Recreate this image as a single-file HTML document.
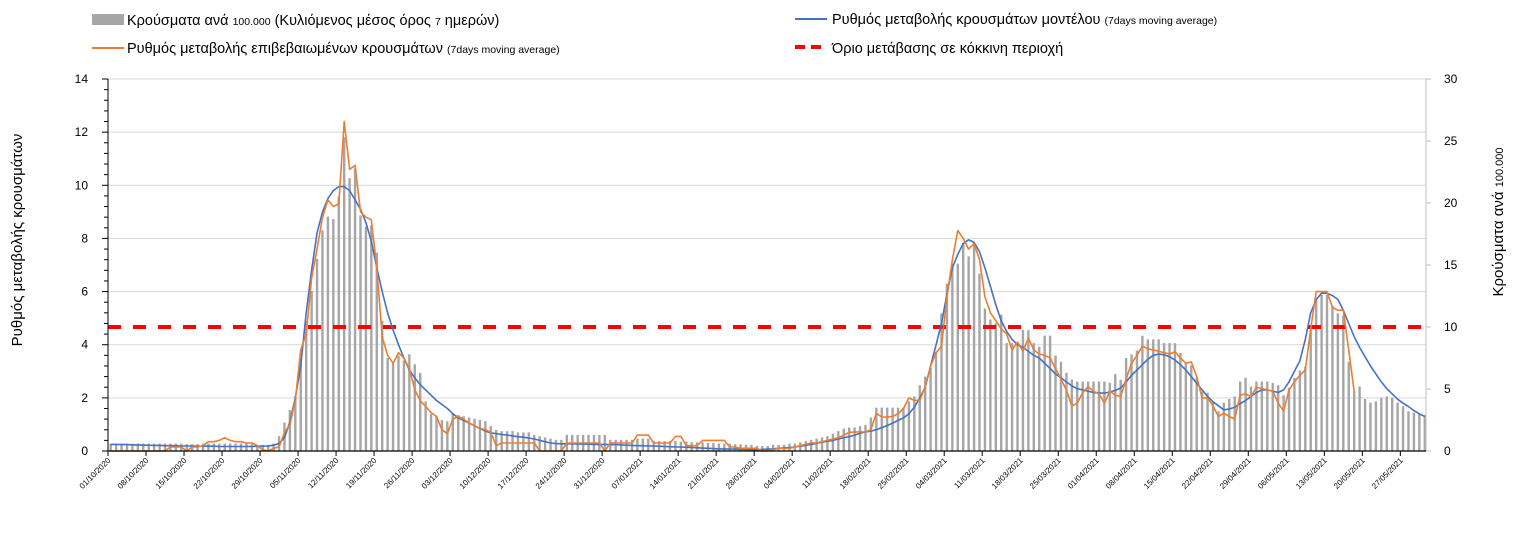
<!DOCTYPE html>
<html><head><meta charset="utf-8"><style>
html,body{margin:0;padding:0;background:#fff;}
svg{display:block;font-family:"Liberation Sans",sans-serif;}
</style></head><body>
<svg id="chart" width="1518" height="538" viewBox="0 0 1518 538" xmlns="http://www.w3.org/2000/svg">
<g id="legend">
 <g>
  <rect x="92" y="14" width="32" height="11" fill="#a6a6a6"/>
  <text x="127" y="25" font-size="14.5" fill="#000">Κρούσματα ανά <tspan font-size="10.5">100.000</tspan> (Κυλιόμενος μέσος όρος <tspan font-size="10.5">7</tspan> ημερών)</text>
 </g>
 <g>
  <line x1="795" y1="19" x2="827" y2="19" stroke="#4472c4" stroke-width="2"/>
  <text x="832" y="24" font-size="14.5" fill="#000">Ρυθμός μεταβολής κρουσμάτων μοντέλου <tspan font-size="10.5">(7days moving average)</tspan></text>
 </g>
 <g>
  <line x1="92" y1="48" x2="124" y2="48" stroke="#ed7d31" stroke-width="2"/>
  <text x="127" y="53" font-size="14.5" fill="#000">Ρυθμός μεταβολής επιβεβαιωμένων κρουσμάτων <tspan font-size="10.5">(7days moving average)</tspan></text>
 </g>
 <g>
  <line x1="795" y1="47" x2="827" y2="47" stroke="#ff0000" stroke-width="4" stroke-dasharray="10,6"/>
  <text x="832" y="53" font-size="14.5" fill="#000">Όριο μετάβασης σε κόκκινη περιοχή</text>
 </g>
</g>
<text transform="translate(22,240) rotate(-90)" text-anchor="middle" font-size="15" fill="#000">Ρυθμός μεταβολής κρουσμάτων</text>
<text transform="translate(1503,222) rotate(-90)" text-anchor="middle" font-size="15" fill="#000">Κρούσματα ανά <tspan font-size="11">100.000</tspan></text>
<g id="grid"></g>
<g id="bars"></g>
<g id="lines"></g>
<g id="axes"></g>
</svg>
<script>
// ===== data =====
const startDate = [2020, 9, 1]; // 01/10/2020
const leftTicks = [0, 2, 4, 6, 8, 10, 12, 14];
const rightTicks = [0, 5, 10, 15, 20, 25, 30];
const redThreshold = [10]; // in cases per 100k (right axis)
const casesPer100k = [
.6,.6,.6,.6,.6,.6,.6,
.6,.6,.6,.6,.6,.6,.6,
.55,.55,.55,.6,.6,.6,.6,
.6,.6,.6,.6,.6,.55,.5,
.5,.5,.6,1.2,2.3,3.3,4.4,
7.5,10.5,12.9,15.5,17.8,18.9,18.7,
20.5,25.3,22,22.8,19,18.1,18.2,
16,10.5,7.5,7.1,7.7,7.3,7.8,
7.0,6.3,4.0,3.0,2.8,2.5,2.4,
3.0,2.9,2.8,2.7,2.6,2.5,2.4,
2.0,1.7,1.6,1.6,1.6,1.5,1.5,
1.5,1.3,1.2,1.1,1.0,.9,.9,
1.3,1.3,1.3,1.3,1.3,1.3,1.3,
1.3,.9,.9,.9,.9,.9,1.0,
1.0,1.0,.8,.8,.8,.8,.8,
.75,.75,.7,.7,.7,.65,.65,
.6,.6,.6,.55,.55,.5,.5,
.4,.4,.4,.5,.5,.5,.6,
.6,.7,.8,.9,1.0,1.1,1.2,
1.4,1.6,1.8,1.9,1.9,2.0,2.1,
2.7,3.5,3.5,3.5,3.5,3.5,3.5,
4.0,4.4,5.3,6.0,6.7,8.0,11.1,
13.5,15.1,15.1,16.8,15.7,16.8,14.3,
11.5,10.6,10.3,11.0,8.7,8.7,8.7,
9.75,9.75,8.7,8.4,9.3,9.3,7.7,
7.2,6.3,5.75,5.6,5.6,5.6,5.6,
5.6,5.6,5.5,6.2,5.75,7.5,7.8,
8.1,9.3,9.0,9.0,9.0,8.7,8.7,
8.7,7.9,7.1,6.9,5.9,4.8,4.7,
4.0,3.2,3.9,4.2,4.4,5.6,5.9,
5.2,5.6,5.6,5.6,5.5,5.3,4.5,
5.1,5.9,6.5,6.8,9.8,12.2,12.6,
12.6,11.7,11.1,10.9,7.2,4.8,5.2,
4.2,3.9,4.0,4.3,4.4,4.3,3.9,
3.6,3.2,3.1,3.0,2.9];
const confirmedRate = [
0,0,0,0,0,0,0,
0,0,0,0,.15,.15,.15,
0,.15,.15,.2,.35,.35,.4,
.5,.4,.35,.35,.3,.3,.2,
.05,0,.1,.15,.7,1.0,1.9,
3.8,4.4,6.5,7.6,8.8,9.45,9.2,
9.3,12.4,10.6,10.75,9.0,8.8,8.7,
6.9,4.3,3.6,3.3,3.7,3.5,3.1,
2.3,1.9,1.67,1.45,1.3,.8,.65,
1.2,1.3,1.2,1.05,.95,.85,.8,
.7,.2,.3,.3,.3,.3,.3,
.3,.3,0,0,0,0,0,
.3,.3,.3,.3,.3,.3,.3,
0,.3,.3,.3,.3,.3,.6,
.6,.6,.3,.3,.3,.3,.55,
.55,.2,.2,.2,.4,.4,.4,
.4,.4,.15,.15,.1,.1,.1,
.1,0,0,.05,.1,.1,.1,
.15,.2,.25,.3,.3,.35,.4,
.45,.5,.6,.7,.72,.72,.72,
.8,1.42,1.28,1.28,1.3,1.4,1.6,
2.0,1.9,1.92,2.4,3.2,3.7,3.95,
5.8,7.2,8.3,8.0,7.6,7.8,7.2,
5.8,5.2,4.9,4.6,4.4,3.8,4.1,
3.75,4.25,3.8,3.65,3.6,3.5,3.1,
2.7,2.3,1.7,1.8,2.2,2.42,2.25,
2.15,1.8,2.25,2.1,2.05,2.7,3.3,
3.6,3.95,3.85,3.8,3.75,3.7,3.65,
3.74,3.5,3.3,3.35,2.8,2.0,2.0,
1.7,1.3,1.42,1.3,1.2,2.1,2.15,
2.04,2.4,2.35,2.3,2.25,1.8,1.5,
2.3,2.6,2.85,3.05,4.6,6.0,6.0,
6.0,5.4,5.3,5.3,3.8,2.23];
const modelRate = [
.25,.25,.24,.24,.23,.23,.22,
.22,.21,.21,.2,.2,.2,.19,
.19,.19,.18,.18,.18,.18,.17,
.17,.17,.17,.17,.17,.17,.18,
.18,.19,.22,.28,.5,1.1,2.0,
3.2,5.2,6.8,8.2,9.0,9.5,9.8,
9.95,9.95,9.8,9.45,9.1,8.6,7.9,
6.9,6.0,5.2,4.55,4.0,3.5,3.05,
2.75,2.5,2.3,2.1,1.9,1.75,1.6,
1.4,1.25,1.15,1.05,.95,.85,.75,
.68,.65,.62,.6,.57,.54,.52,
.49,.45,.4,.35,.3,.28,.27,
.27,.27,.26,.26,.26,.25,.25,
.25,.24,.24,.23,.22,.21,.2,
.2,.19,.19,.18,.17,.16,.15,
.15,.14,.13,.12,.11,.1,.09,
.08,.08,.07,.07,.06,.06,.05,
.05,.06,.07,.08,.1,.12,.13,
.15,.18,.21,.25,.29,.33,.37,
.4,.45,.5,.54,.6,.67,.72,
.75,.8,.88,.96,1.05,1.15,1.25,
1.4,1.65,2.0,2.4,3.2,4.0,4.8,
5.9,6.9,7.4,7.8,7.95,7.85,7.5,
6.9,6.2,5.5,4.9,4.5,4.2,4.0,
3.9,3.75,3.6,3.5,3.3,3.1,2.9,
2.75,2.6,2.45,2.35,2.3,2.25,2.2,
2.18,2.18,2.22,2.28,2.37,2.6,2.85,
3.05,3.25,3.45,3.6,3.65,3.62,3.55,
3.42,3.25,3.05,2.8,2.55,2.3,2.05,
1.85,1.7,1.55,1.58,1.65,1.78,1.9,
2.05,2.2,2.3,2.3,2.25,2.2,2.3,
2.6,3.0,3.4,4.2,5.2,5.7,5.94,
5.94,5.85,5.7,5.3,4.8,4.3,3.9,
3.55,3.2,2.9,2.6,2.35,2.15,1.95,
1.8,1.67,1.52,1.4,1.3];

// ===== layout =====
const NS = "http://www.w3.org/2000/svg";
const X0 = 108, X1 = 1426, Y0 = 451, Y1 = 79;
const nDays = 243;
const dayW = 5.43;
const xDay = d => X0 + d * dayW;
const yL = v => Y0 - (v / 14) * (Y0 - Y1);
const yR = v => Y0 - (v / 30) * (Y0 - Y1);
function mk(tag, attrs, parent) {
  const e = document.createElementNS(NS, tag);
  for (const k in attrs) e.setAttribute(k, attrs[k]);
  parent.appendChild(e);
  return e;
}
const grid = document.getElementById('grid');
const bars = document.getElementById('bars');
const lines = document.getElementById('lines');
const axes = document.getElementById('axes');

// gridlines
leftTicks.forEach(t => {
  if (t === 0) return;
  const g = mk('line', {x1: X0, x2: X1, y1: yL(t), y2: yL(t), stroke: '#d9d9d9', 'stroke-width': 1}, grid);
  
  
});

// bars
casesPer100k.forEach((v, i) => {
  const b = mk('rect', {x: xDay(i) + 1.5, y: yR(v), width: 2.4, height: Y0 - yR(v), fill: '#a6a6a6'}, bars);
  
  
});

// threshold
const th = mk('line', {x1: X0, x2: X1, y1: yR(redThreshold[0]), y2: yR(redThreshold[0]), stroke: '#ff0000', 'stroke-width': 4, 'stroke-dasharray': '13,12'}, lines);



function path(arr, color, name) {
  let d = '';
  arr.forEach((v, i) => { d += (i ? 'L' : 'M') + (xDay(i) + 2.7).toFixed(1) + ',' + yL(v).toFixed(1); });
  const p = mk('path', {d: d, fill: 'none', stroke: color, 'stroke-width': 1.6, 'stroke-linejoin': 'round'}, lines);
  
  
}
path(modelRate, '#4472c4', 'model-rate-line');
path(confirmedRate, '#ed7d31', 'confirmed-rate-line');

// axes
const la = mk('line', {x1: X0, x2: X0, y1: Y1, y2: Y0, stroke: '#000', 'stroke-width': 1}, axes);


const ra = mk('line', {x1: X1, x2: X1, y1: Y1, y2: Y0, stroke: '#bfbfbf', 'stroke-width': 1}, axes);


const xa = mk('line', {x1: X0, x2: X1, y1: Y0, y2: Y0, stroke: '#000', 'stroke-width': 1.2}, axes);



for (let m = 0; m <= 35; m++) {
  const v = m * 0.4, y = yL(v);
  const major = m % 5 === 0;
  mk('line', {x1: major ? X0 - 6 : X0 - 4, x2: X0, y1: y, y2: y, stroke: '#000', 'stroke-width': 1}, axes);
}
leftTicks.forEach(t => {
  const tx = mk('text', {x: 88, y: yL(t) + 4, 'text-anchor': 'end', 'font-size': 12, fill: '#000'}, axes);
  tx.textContent = t;
  
  
});
rightTicks.forEach(t => {
  mk('line', {x1: X1, x2: X1 + 5, y1: yR(t), y2: yR(t), stroke: '#bfbfbf', 'stroke-width': 1}, axes);
  const tx = mk('text', {x: 1444, y: yR(t) + 4, 'font-size': 12, fill: '#000'}, axes);
  tx.textContent = t;
  
  
});
// x ticks & labels every 7 days
const pad = n => (n < 10 ? '0' : '') + n;
for (let d = 0; d < nDays; d += 7) {
  const dt = new Date(startDate[0], startDate[1], startDate[2] + d);
  const x = xDay(d);
  mk('line', {x1: x, x2: x, y1: Y0, y2: Y0 + 5, stroke: '#000', 'stroke-width': 1}, axes);
  const lbl = pad(dt.getDate()) + '/' + pad(dt.getMonth() + 1) + '/' + dt.getFullYear();
  const tx = mk('text', {x: 0, y: 0, 'text-anchor': 'end', 'font-size': 8, fill: '#000', transform: 'translate(' + (x + 3) + ',' + (Y0 + 10) + ') rotate(-45)'}, axes);
  tx.textContent = lbl;
  
  
}
</script>
</body></html>
